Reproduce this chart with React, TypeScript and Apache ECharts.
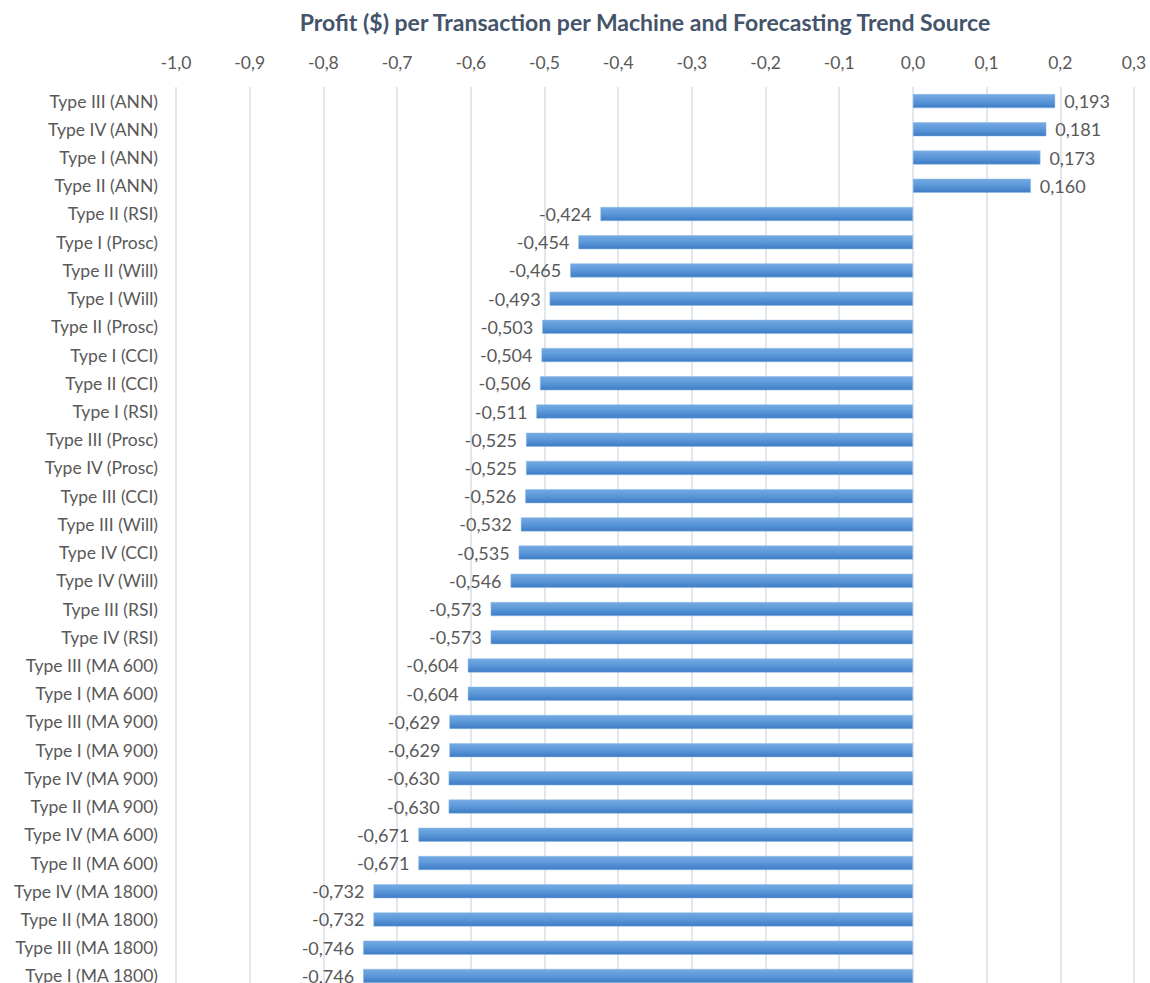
import React, { useEffect, useRef } from "react";
import * as echarts from "echarts";

const categories = [
  "Type III (ANN)", "Type IV (ANN)", "Type I (ANN)", "Type II (ANN)",
  "Type II (RSI)", "Type I (Prosc)", "Type II (Will)", "Type I (Will)",
  "Type II (Prosc)", "Type I (CCI)", "Type II (CCI)", "Type I (RSI)",
  "Type III (Prosc)", "Type IV (Prosc)", "Type III (CCI)", "Type III (Will)",
  "Type IV (CCI)", "Type IV (Will)", "Type III (RSI)", "Type IV (RSI)",
  "Type III (MA 600)", "Type I (MA 600)", "Type III (MA 900)", "Type I (MA 900)",
  "Type IV (MA 900)", "Type II (MA 900)", "Type IV (MA 600)", "Type II (MA 600)",
  "Type IV (MA 1800)", "Type II (MA 1800)", "Type III (MA 1800)", "Type I (MA 1800)",
];

const profits = [
  0.193, 0.181, 0.173, 0.16,
  -0.424, -0.454, -0.465, -0.493,
  -0.503, -0.504, -0.506, -0.511,
  -0.525, -0.525, -0.526, -0.532,
  -0.535, -0.546, -0.573, -0.573,
  -0.604, -0.604, -0.629, -0.629,
  -0.63, -0.63, -0.671, -0.671,
  -0.732, -0.732, -0.746, -0.746,
];

const titleText = "Profit ($) per Transaction per Machine and Forecasting Trend Source";

const FONT = "Lato, 'Open Sans', sans-serif";

export default function App() {
  const ref = useRef<HTMLDivElement>(null);
  useEffect(() => {
    if (!ref.current) return;
    const chart = echarts.init(ref.current, null, { renderer: "svg" });
    const barColor = new echarts.graphic.LinearGradient(0, 0, 0, 1, [
      { offset: 0, color: "#74aae2" },
      { offset: 0.5, color: "#5b97d8" },
      { offset: 1, color: "#3d7bc4" },
    ]);
    chart.setOption({
      animation: false,
      backgroundColor: "#ffffff",
      graphic: [
        {
          type: "text",
          x: 645,
          y: 22,
          style: {
            text: titleText,
            font: `bold 23px ${FONT}`,
            fill: "#44546a",
            textAlign: "center",
            textVerticalAlign: "middle",
          },
        },
      ],
      grid: { left: 176, right: 16, top: 87, bottom: 0, containLabel: false },
      xAxis: {
        type: "value",
        position: "top",
        min: -1,
        max: 0.3,
        interval: 0.1,
        axisLine: { show: false },
        axisTick: { show: false },
        splitLine: { show: true, lineStyle: { color: "#d9dfe8", width: 1.5 } },
        axisLabel: {
          margin: 16,
          color: "#595959",
          fontSize: 17.5,
          fontFamily: FONT,
          formatter: (v: number) => v.toFixed(1).replace(".", ","),
        },
      },
      yAxis: {
        type: "category",
        data: categories,
        inverse: true,
        axisLine: { show: false },
        axisTick: { show: false },
        splitLine: { show: false },
        axisLabel: {
          margin: 18,
          color: "#595959",
          fontSize: 17.5,
          fontFamily: FONT,
        },
      },
      series: [
        {
          type: "bar",
          barWidth: 14,
          data: profits.map((v) => ({
            value: v,
            label: { position: v < 0 ? "left" : "right" },
          })),
          itemStyle: { color: barColor, borderColor: "#8dbbe8", borderWidth: 0.5 },
          label: {
            show: true,
            distance: 9,
            color: "#595959",
            fontSize: 18,
            fontFamily: FONT,
            formatter: (p: any) => Number(p.value).toFixed(3).replace(".", ","),
          },
        },
      ],
    });
    return () => chart.dispose();
  }, []);
  return (
    <div
      ref={ref}
      style={{ position: "fixed", left: 0, top: 0, width: 1150, height: 990 }}
    />
  );
}
